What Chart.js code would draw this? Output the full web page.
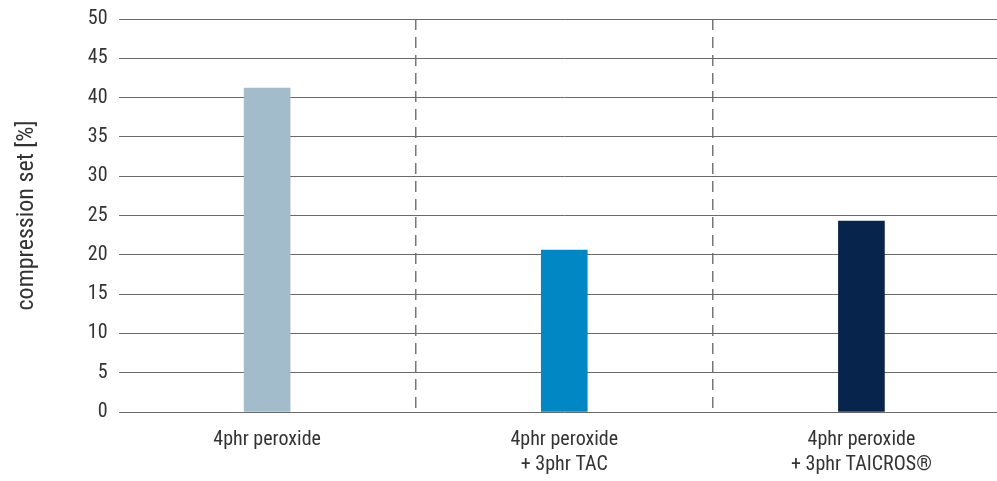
<!DOCTYPE html>
<html>
<head>
<meta charset="utf-8">
<script src="https://cdn.jsdelivr.net/npm/chart.js@4.4.1/dist/chart.umd.min.js"></script>
<style>
  html, body { margin: 0; padding: 0; background: #ffffff; overflow: hidden; }
  #wrap { width: 997px; height: 481px; overflow: hidden; }
  #c { display: block; margin-top: -4px; }
</style>
</head>
<body>
<div id="wrap"><canvas id="c" width="1010" height="496"></canvas></div>
<script>
// Compression set of each curing recipe
const categories = [
  ['4phr peroxide'],
  ['4phr peroxide', '+ 3phr TAC'],
  ['4phr peroxide', '+ 3phr TAICROS®']
];
const compressionSet = [41.2, 20.6, 24.3];
const barColors = ['#a2bccb', '#0087c4', '#07254c'];
const yTitle = 'compression set [%]';

const FONT = "'Roboto Condensed', 'Liberation Sans Narrow', 'Roboto', sans-serif";

new Chart(document.getElementById('c'), {
  type: 'bar',
  data: {
    labels: categories,
    datasets: [{
      data: compressionSet,
      backgroundColor: barColors,
      borderWidth: 0,
      barThickness: 46
    }]
  },
  options: {
    responsive: false,
    animation: false,
    layout: { padding: { left: 13, top: 6, right: 0, bottom: 0 } },
    plugins: { legend: { display: false }, tooltip: { enabled: false } },
    scales: {
      x: {
        offset: true,
        border: { display: false, dash: [11, 7] },
        grid: {
          offset: true,
          drawTicks: false,
          color: ctx => ctx.index === 0 ? 'rgba(0,0,0,0)' : '#777777',
          lineWidth: 1.5
        },
        ticks: {
          color: '#333333',
          font: { family: FONT, size: 20, lineHeight: 1.25 },
          padding: 15,
          maxRotation: 0
        }
      },
      y: {
        min: 0,
        max: 50,
        border: { display: false },
        grid: {
          color: '#6a6a6a',
          lineWidth: 1,
          drawTicks: false
        },
        ticks: {
          stepSize: 5,
          color: '#333333',
          font: { family: FONT, size: 20 },
          padding: 11
        },
        title: {
          display: true,
          text: yTitle,
          color: '#333333',
          font: { family: FONT, size: 24 },
          padding: { top: 0, bottom: 35 }
        }
      }
    }
  }
});
</script>
</body>
</html>
